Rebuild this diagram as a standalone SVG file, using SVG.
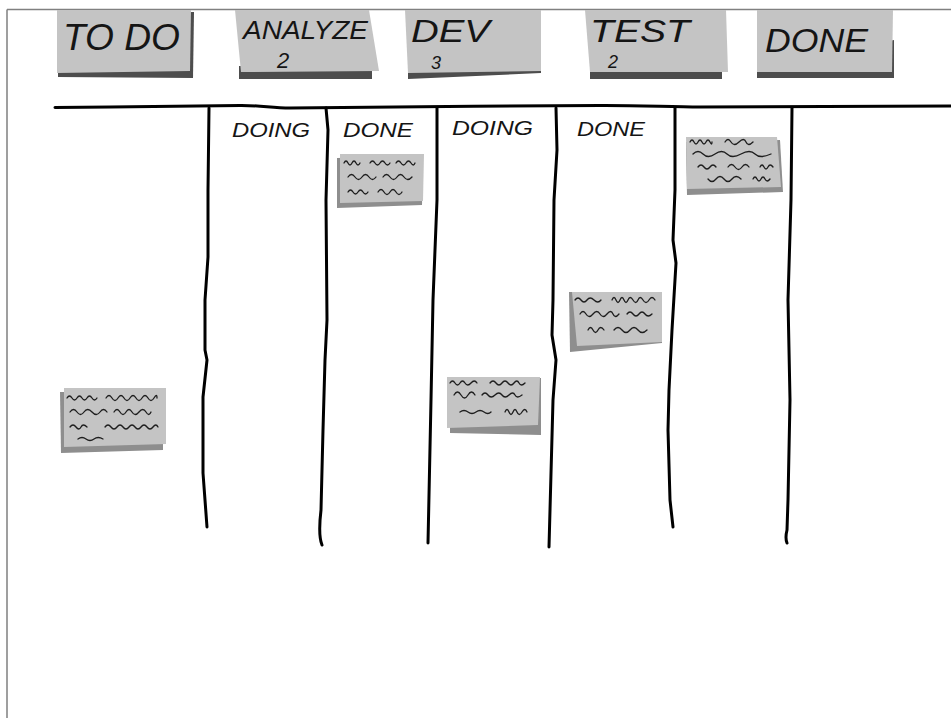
<svg xmlns="http://www.w3.org/2000/svg" width="951" height="718" viewBox="0 0 951 718">
<style>
.note{fill:#c4c4c4}
.hshadow{fill:#4d4d4d}
.sshadow{fill:#8e8e8e}
.hand{font-family:"Liberation Sans",Arial,sans-serif;font-style:italic;fill:#151515}
.board{fill:none;stroke:#000;stroke-width:3;stroke-linecap:round;stroke-linejoin:round}
.scrib{fill:none;stroke:#1e1e1e;stroke-width:1.3;stroke-linecap:round}
</style>
<rect x="0" y="0" width="951" height="718" fill="#fff"/>
<g id="frame" fill="none" stroke="#808080" stroke-width="1.5">
<path d="M7,9.5 L951,9.5 M7,9.5 L7,718"/>
</g>

<g id="hdr-todo">
<polygon class="hshadow" points="58,14 194,12 193,78 58,77"/>
<polygon class="note" points="57,10 191,10 190,71 57,73"/>
<text class="hand" x="63" y="50" font-size="36" textLength="117" lengthAdjust="spacingAndGlyphs">TO DO</text>
</g>
<g id="hdr-analyze">
<polygon class="hshadow" points="239,66 372,66 372,79 239,79"/>
<polygon class="note" points="235,10 369,10 379,71 241,72"/>
<text class="hand" x="243" y="39" font-size="26" textLength="125" lengthAdjust="spacingAndGlyphs">ANALYZE</text>
<text class="hand" x="277" y="68" font-size="22">2</text>
</g>
<g id="hdr-dev">
<polygon class="hshadow" points="408,68 541,68 541,73 408,79"/>
<polygon class="note" points="405,10 541,10 541,71 408,73"/>
<text class="hand" x="411" y="42" font-size="32" textLength="79" lengthAdjust="spacingAndGlyphs">DEV</text>
<text class="hand" x="431" y="69" font-size="18">3</text>
</g>
<g id="hdr-test">
<polygon class="hshadow" points="590,68 722,68 722,79 590,79"/>
<polygon class="note" points="585,10 726,10 728,72 590,72"/>
<text class="hand" x="590" y="42" font-size="32" textLength="100" lengthAdjust="spacingAndGlyphs">TEST</text>
<text class="hand" x="608" y="68" font-size="18">2</text>
</g>
<g id="hdr-done">
<polygon class="hshadow" points="757,68 894,40 894,78 757,78"/>
<polygon class="note" points="757,10 893,10 892,72 757,72"/>
<text class="hand" x="765" y="52" font-size="34" textLength="103" lengthAdjust="spacingAndGlyphs">DONE</text>
</g>

<g id="connectors">
<path class="board" stroke-width="2" d="M55,107.5 C120,107 200,106 240,105.5 C260,105.3 272,108 290,108 C380,107 500,106 600,105.5 C640,105.3 670,107 700,107 L951,106"/>
<path class="board" d="M209,108 L208,190 L208,257 L205,300 L205,350 L207,360 L203,397 L203,473 L207,527"/>
<path class="board" d="M326,108 L328,130 L326,200 L327,320 L325,360 L323,430 L321,510 Q318,535 322,545"/>
<path class="board" d="M437,108 L437,200 L433,300 L431,400 L428,543"/>
<path class="board" d="M556,108 L557,150 L554,200 L553,300 L552,335 L556,360 L553,400 L549,547"/>
<path class="board" d="M675,108 L675,190 L673,240 L676,263 L672,330 L669,390 L668,430 L670,500 L673,527"/>
<path class="board" d="M792,108 L791,200 L788,300 L790,400 L788,500 L787,530 Q785,538 787,543"/>
</g>

<g id="col-labels">
<text class="hand" x="232" y="137" font-size="20" textLength="78" lengthAdjust="spacingAndGlyphs">DOING</text>
<text class="hand" x="343" y="137" font-size="20" textLength="70" lengthAdjust="spacingAndGlyphs">DONE</text>
<text class="hand" x="452" y="135" font-size="20" textLength="81" lengthAdjust="spacingAndGlyphs">DOING</text>
<text class="hand" x="577" y="136" font-size="20" textLength="68" lengthAdjust="spacingAndGlyphs">DONE</text>
</g>

<g id="card-analyze-done">
<polygon class="sshadow" points="337,158 423,156 422,205 337,208"/>
<polygon class="note" points="340,154 424,154 423,201 340,203"/>
<path class="scrib" d="M344,163 q2,-4 4,0 t4,0 t4,0 t4,0 M370,163 q2.5,-4 5,0 t5,0 t5,0 t5,0 M396,163 q2.5,-4 5,0 t5,0 t5,0 t4,0 M348,177 q3.5,-5 7,0 t7,0 t7,0 t7,0 M383,177 q3.5,-5 7,0 t7,0 t7,0 t8,0 M348,192 q2.5,-4 5,0 t5,0 t5,0 t5,0 M378,192 q3,-5 6,0 t6,0 t6,0 t6,0"/>
</g>
<g id="card-done">
<polygon class="sshadow" points="686,142 780,140 783,192 687,195"/>
<polygon class="note" points="686,137 777,137 781,187 687,189"/>
<path class="scrib" d="M690,142 q2,-4 4,0 t4,0 t4,0 t4,0 t4,0 t2,0 M725,142 q3,-5 6,0 t8,0 t7,0 t7,0 M693,154 q5,-5 10,0 t12,0 t12,0 t14,0 t14,0 t16,0 M698,167 q3,-4 6,0 t6,0 t6,0 M728,167 q3.5,-5 7,0 t7,0 t7,0 M760,167 q2,-4 4,0 t4,0 t5,0 M708,179 q4,5 8,0 t8,0 t8,0 t9,0 M753,179 q2,-4 4,0 t4,0 t4,0 t5,0"/>
</g>
<g id="card-test-doing">
<polygon class="sshadow" points="569,292 662,292 662,343 570,352"/>
<polygon class="note" points="572,292 662,292 662,342 577,346"/>
<path class="scrib" d="M575,300 q3,-4 6,0 t6,0 t7,0 t7,0 M612,300 q2,-5 4,0 t4,0 t4,0 t4,0 t5,0 t5,0 t5,0 t6,0 t6,0 M580,314 q3,-5 6,0 t7,0 t7,0 t7,0 t6,0 t6,0 M627,314 q3,-4 6,0 t6,0 t6,0 t7,0 M588,330 q2.5,-5 5,0 t5,0 t6,0 M614,330 q4,-5 8,0 t8,0 t8,0 t9,0"/>
</g>
<g id="card-dev-doing">
<polygon class="sshadow" points="450,380 541,378 541,435 450,433"/>
<polygon class="note" points="447,377 540,377 538,425 447,428"/>
<path class="scrib" d="M450,383 q2.5,-4 5,0 t5,0 t5,0 t6,0 t6,0 M490,383 q3,-4 6,0 t6,0 t6,0 t6,0 t5,0 t6,0 M454,395 q3.5,-6 7,0 t7,0 t7,0 M482,395 q3,-4 6,0 t7,0 t7,0 t7,0 t6,0 t7,0 M460,412 q4,-3 8,0 t8,0 t8,0 t7,0 M505,412 q2,-5 4,0 t4,0 t4,0 t5,0 t5,0"/>
</g>
<g id="card-todo">
<polygon class="sshadow" points="60,392 163,392 163,450 61,453"/>
<polygon class="note" points="64,388 166,388 166,444 64,447"/>
<path class="scrib" d="M67,398 q2.5,-4 5,0 t5,0 t5,0 t5,0 t5,0 t5,0 M106,398 q3,-5 6,0 t6,0 t6,0 t6,0 t6,0 t6,0 t6,0 t6,0 t3,0 M70,412 q3.5,-5 7,0 t7,0 t8,0 t8,0 t7,0 M114,412 q3,-5 6,0 t6,0 t6,0 t7,0 t7,0 t5,0 M70,427 q3,-4 6,0 t5,0 t6,0 M105,427 q3,-4 6,0 t6,0 t6,0 t6,0 t6,0 t6,0 t6,0 t6,0 t5,0 M78,439 q4,-3 8,0 t8,0 t9,0"/>
</g>
</svg>
